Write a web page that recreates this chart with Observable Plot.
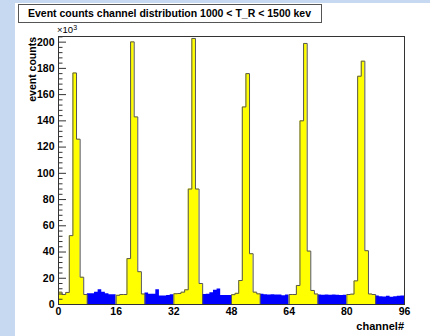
<!DOCTYPE html>
<html><head><meta charset="utf-8">
<script src="https://cdn.jsdelivr.net/npm/d3@7"></script>
<script src="https://cdn.jsdelivr.net/npm/@observablehq/plot@0.6"></script>
<style>
html,body{margin:0;padding:0;}
body{width:430px;height:336px;background:#c6d9f0;position:relative;overflow:hidden;font-family:"Liberation Sans",Arial,sans-serif;}
#pad{position:absolute;left:15px;top:3px;width:415px;height:333px;background:#fff;}
#chart{position:absolute;left:0;top:0;}
#title{position:absolute;left:18px;top:4px;width:304px;height:19px;box-sizing:border-box;border:1px solid #555;background:#fff;font-weight:bold;font-size:10.5px;line-height:17px;padding-left:9px;white-space:nowrap;color:#000;}
#ylab{position:absolute;left:26px;top:137px;width:100px;height:12px;line-height:12px;text-align:right;transform:rotate(-90deg);transform-origin:top left;font-weight:bold;font-size:10.5px;white-space:nowrap;}
#xlab{position:absolute;right:26px;top:321px;font-weight:bold;font-size:11px;line-height:11px;white-space:nowrap;}
#mult{position:absolute;left:57px;top:25px;font-size:9.5px;line-height:10px;white-space:nowrap;}
#mult sup{font-size:7px;vertical-align:top;position:relative;top:-2px;}
</style></head>
<body>
<div id="pad"></div>
<div id="chart"></div>
<div id="title">Event counts channel distribution 1000 &lt; T_R &lt; 1500 kev</div>
<div id="ylab">event counts</div>
<div id="mult">×10<sup>3</sup></div>
<div id="xlab">channel#</div>
<script>
// event counts per channel, in thousands (channels 0..95)
const counts = [
  9.4, 7.6, 9.2, 52.5, 176.5, 126, 20.8, 7.6,
  8.1, 8.1, 9.4, 11.2, 9.4, 8.1, 7.4, 7.4,
  7.0, 7.6, 7.6, 35, 200.2, 143, 25, 8.0,
  8.7, 7.8, 7.8, 11.2, 6.4, 6.5, 6.9, 7.4,
  8.2, 8.4, 9.4, 11.2, 88, 202.8, 88, 16,
  7.6, 7.8, 9.0, 10.8, 11.8, 6.9, 6.9, 6.9,
  7.5, 8.5, 18.3, 150.6, 176, 38.7, 9.4, 8.1,
  7.8, 7.5, 7.3, 7.4, 7.2, 7.2, 6.6, 7.3,
  7.6, 7.6, 14.5, 140, 199, 40.7, 10.7, 8.0,
  7.2, 7.0, 7.2, 7.0, 7.2, 7.0, 6.8, 7.0,
  7.6, 7.9, 18, 174, 185.5, 41, 8.0, 7.6,
  6.4, 6.0, 5.8, 6.2, 5.6, 6.0, 6.2, 6.4
];
// which histogram each block of 8 channels belongs to
const blockSeries = ["peak","base","peak","base","peak","base","peak","base","peak","base","peak","base"];
const seriesNames = ["peak","base"];
const seriesColors = ["#ffff00","#0000ff"];
const xTicks = [0, 16, 32, 48, 64, 80, 96];
const yTicks = [0, 20, 40, 60, 80, 100, 120, 140, 160, 180, 200];
const channelsPerBlock = 8;

const W = 430, H = 336, mL = 58, mR = 26, mT = 36, mB = 32;
const innerW = W - mL - mR;

const areaPts = [];
const outlinePts = [];
blockSeries.forEach((s, b) => {
  const start = b * channelsPerBlock;
  const pts = [];
  for (let c = start; c < start + channelsPerBlock; c++) pts.push({x: c, y: counts[c], b, s});
  pts.push({x: start + channelsPerBlock, y: counts[start + channelsPerBlock - 1], b, s});
  areaPts.push(...pts);
  if (s === "peak") {
    outlinePts.push({x: start, y: 0, b, s}, ...pts, {x: start + channelsPerBlock, y: 0, b, s});
  }
});

const minorY = d3.range(0, 205, 4).filter(v => v % 20 !== 0);

const chart = Plot.plot({
  width: W, height: H,
  marginLeft: mL, marginRight: mR, marginTop: mT, marginBottom: mB,
  style: {background: "transparent", fontFamily: "'Liberation Sans', Arial, sans-serif", color: "#000"},
  x: {domain: [0, 96]},
  y: {domain: [0, 204.3]},
  color: {domain: seriesNames, range: seriesColors},
  marks: [
    Plot.area(areaPts, {x1: "x", y1: 0, y2: "y", z: "b", fill: "s", curve: "step-after"}),
    Plot.line(outlinePts, {x: "x", y: "y", z: "b", stroke: "#555", strokeWidth: 1, curve: "step-after"}),
    Plot.tickY(yTicks, {y: d => d, insetRight: innerW - 8, stroke: "#333"}),
    Plot.tickY(minorY, {y: d => d, insetRight: innerW - 4.5, stroke: "#333"}),
    Plot.frame({stroke: "#333"}),
    Plot.axisY({ticks: yTicks, tickSize: 0, tickPadding: 4, fontWeight: "bold", fontSize: 10.5, label: null, tickFormat: d => d}),
    Plot.axisX({ticks: xTicks, tickSize: 0, tickPadding: 3, fontWeight: "bold", fontSize: 10.5, label: null, tickFormat: d => d})
  ]
});
document.getElementById("chart").appendChild(chart);
</script>
</body></html>
